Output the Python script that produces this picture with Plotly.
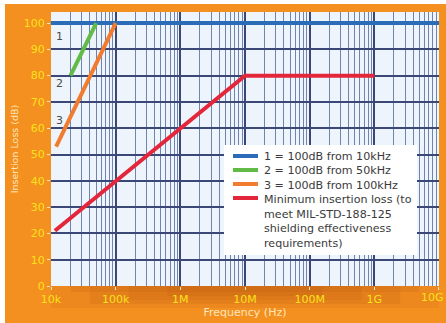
import plotly.graph_objects as go

# Shielding requirement curves: frequency (Hz) vs insertion loss (dB)
freq_1 = [10e3, 10e9]
loss_1 = [100, 100]

freq_2 = [20e3, 50e3]
loss_2 = [80, 100]

freq_3 = [12e3, 100e3]
loss_3 = [53, 100]

freq_min = [11.5e3, 10e6, 1e9]
loss_min = [21, 80, 80]

series_names = [
    "1 = 100dB from 10kHz",
    "2 = 100dB from 50kHz",
    "3 = 100dB from 100kHz",
    "Minimum insertion loss (to<br>meet MIL-STD-188-125<br>shielding effectiveness<br>requirements)",
]

curve_labels = ["1", "2", "3"]
curve_label_y = [95, 77, 63]

x_tick_vals = [1e4, 1e5, 1e6, 1e7, 1e8, 1e9, 1e10]
x_tick_text = ["10k", "100k", "1M", "10M", "100M", "1G", "10G"]
y_tick_vals = [0, 10, 20, 30, 40, 50, 60, 70, 80, 90, 100]

ORANGE = "#f4901f"
YELLOW = "#f9e11c"
CREAM = "#fde6bd"
GRID_MAJOR = "#3b4877"
GRID_MINOR = "#7084b0"
colors = ["#2b6cb8", "#62bb47", "#f17c2f", "#e4263a"]

W, H = 446, 323
M_L, M_R, M_T, M_B = 51, 7, 12, 37
PW, PH = W - M_L - M_R, H - M_T - M_B


def px_x(px):
    return (px - M_L) / PW


def px_y(py):
    return (H - M_B - py) / PH


fig = go.Figure()

for xs, ys, name, col in zip(
    [freq_1, freq_2, freq_3, freq_min],
    [loss_1, loss_2, loss_3, loss_min],
    series_names,
    colors,
):
    fig.add_trace(go.Scatter(x=xs, y=ys, mode="lines", name=name,
                             line=dict(color=col, width=4), showlegend=False))

for lbl, yv in zip(curve_labels, curve_label_y):
    fig.add_annotation(x=4.13, y=yv, xref="x", yref="y", text=lbl,
                       showarrow=False, font=dict(size=11, color="#4a4a4a",
                                                  family="DejaVu Sans"))

# white edge strips at the top and left of the page
fig.add_shape(type="rect", xref="paper", yref="paper", x0=-0.2, x1=1.1,
              y0=px_y(4), y1=1.2, fillcolor="white", line_width=0, layer="below")
fig.add_shape(type="rect", xref="paper", yref="paper", x0=-0.2, x1=px_x(5),
              y0=-0.2, y1=1.2, fillcolor="white", line_width=0, layer="below")

# soft darker glow beneath the plot area
for (xa, xb, depth) in [(0.0, 1.0, 22), (0.1, 0.9, 18), (0.2, 0.8, 14),
                        (0.3, 0.7, 10), (0.05, 0.95, 6)]:
    fig.add_shape(type="rect", xref="paper", yref="paper", x0=xa, x1=xb,
                  y0=px_y(286 + depth), y1=0, fillcolor="#9c3a08", opacity=0.09,
                  line_width=0, layer="below")

# legend panel
LEG_X0, LEG_X1, LEG_Y0, LEG_Y1 = 224, 417, 145, 255
fig.add_shape(type="rect", xref="paper", yref="paper",
              x0=px_x(LEG_X0), x1=px_x(LEG_X1), y0=px_y(LEG_Y1), y1=px_y(LEG_Y0),
              fillcolor="white", line_width=0, layer="above")
row_y = [156, 170, 184, 198]
for col, ry in zip(colors, row_y):
    fig.add_shape(type="line", xref="paper", yref="paper",
                  x0=px_x(233), x1=px_x(258), y0=px_y(ry), y1=px_y(ry),
                  line=dict(color=col, width=4), layer="above")
fig.add_annotation(xref="paper", yref="paper", x=px_x(262), y=px_y(148),
                   xanchor="left", yanchor="top", align="left", showarrow=False,
                   text="<br>".join(series_names),
                   font=dict(size=11.1, color="#3a3a3a", family="DejaVu Sans"))

# the last decade label sits against the page edge
x_tick_text_drawn = x_tick_text[:-1] + [""]
fig.add_annotation(xref="paper", yref="paper", x=px_x(W), y=0,
                   xanchor="right", yanchor="top", yshift=-3, showarrow=False,
                   text=x_tick_text[-1], font=dict(color=YELLOW, size=11))

fig.update_layout(
    width=W, height=H,
    margin=dict(l=M_L, r=M_R, t=M_T, b=M_B, autoexpand=False),
    paper_bgcolor=ORANGE,
    plot_bgcolor="#edf4fc",
    font=dict(family="DejaVu Sans", size=10, color=YELLOW),
    showlegend=False,
)

fig.update_xaxes(
    type="log", range=[4, 10.0001], automargin=False,
    tickvals=x_tick_vals, ticktext=x_tick_text_drawn,
    tickfont=dict(color=YELLOW, size=11),
    showgrid=True, gridcolor=GRID_MAJOR, gridwidth=1.5,
    minor=dict(showgrid=True, gridcolor=GRID_MINOR, gridwidth=1, dtick="D1"),
    ticks="outside", ticklen=3, tickcolor="#f5e6c8",
    zeroline=False, showline=False,
    title=dict(text="Frequency (Hz)", font=dict(color=CREAM, size=11),
               standoff=3),
)

fig.update_yaxes(
    range=[0, 104.2], tickvals=y_tick_vals, automargin=False,
    tickfont=dict(color=YELLOW, size=11),
    showgrid=True, gridcolor=GRID_MAJOR, gridwidth=1.5,
    ticks="outside", ticklen=3, tickcolor="#f5e6c8",
    zeroline=False, showline=False,
    title=dict(text="Insertion Loss (dB)", font=dict(color=CREAM, size=9.5),
               standoff=3),
)

fig.write_html("out.html")
